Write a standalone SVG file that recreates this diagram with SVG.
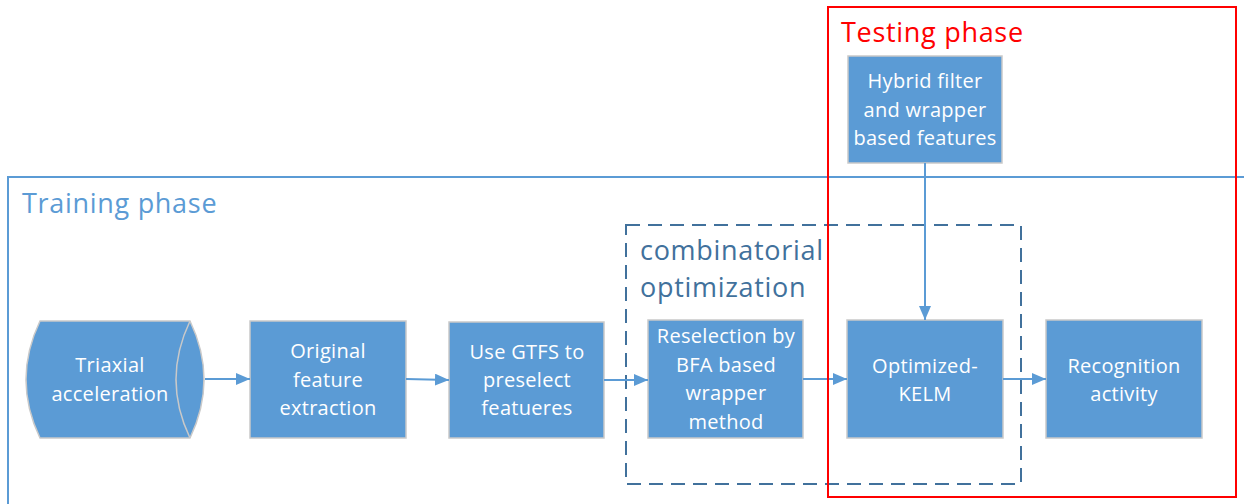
<svg xmlns="http://www.w3.org/2000/svg" width="1244" height="504" viewBox="0 0 1244 504">
  <style>
    .node { fill: #5B9BD5; stroke: #C9C9C9; stroke-width: 1.5; }
    .label { font-family: "Open Sans", "Liberation Sans", sans-serif; font-size: 20px; letter-spacing: 0.3px; fill: #FFFFFF; text-anchor: middle; }
    .title { font-family: "Open Sans", "Liberation Sans", sans-serif; font-size: 27px; letter-spacing: 0.7px; }
    .edge { fill: none; stroke: #5B9BD5; stroke-width: 2; }
  </style>
  <defs>
    <marker id="arrow" markerWidth="14" markerHeight="12" refX="14" refY="6" orient="auto" markerUnits="userSpaceOnUse">
      <path d="M0,0 L14,6 L0,12 Z" fill="#5B9BD5"/>
    </marker>
  </defs>

  <rect width="1244" height="504" fill="#FFFFFF"/>

  <!-- Training phase frame (open to the right and bottom) -->
  <g id="training-phase">
    <rect x="8" y="177" width="1260" height="360" fill="none" stroke="#5B9BD5" stroke-width="2"/>
    <text class="title" x="22" y="213" fill="#5B9BD5">Training phase</text>
  </g>

  <!-- Combinatorial optimization group -->
  <g id="combinatorial-optimization">
    <rect x="626" y="225" width="395" height="259" fill="none" stroke="#41719C" stroke-width="2" stroke-dasharray="14,8"/>
    <text class="title" x="640" y="260" fill="#41719C" letter-spacing="1.5">combinatorial</text>
    <text class="title" x="640" y="297" fill="#41719C" letter-spacing="1.5">optimization</text>
  </g>

  <!-- Nodes -->
  <g id="triaxial-acceleration">
    <path class="node" d="M40,321 L190,321 Q218,379.5 190,438 L40,438 Q12,379.5 40,321 Z"/>
    <path d="M190,321 Q162,379.5 190,438" fill="none" stroke="#C9C9C9" stroke-width="1.5"/>
    <text class="label" x="110" y="372">Triaxial</text>
    <text class="label" x="110" y="401">acceleration</text>
  </g>

  <g id="original-feature-extraction">
    <rect class="node" x="250" y="321" width="156" height="117"/>
    <text class="label" x="328" y="358">Original</text>
    <text class="label" x="328" y="387">feature</text>
    <text class="label" x="328" y="415">extraction</text>
  </g>

  <g id="gtfs-preselect">
    <rect class="node" x="449" y="322" width="155" height="116"/>
    <text class="label" x="527" y="359">Use GTFS to</text>
    <text class="label" x="527" y="387">preselect</text>
    <text class="label" x="527" y="415">featueres</text>
  </g>

  <g id="bfa-reselection">
    <rect class="node" x="648" y="320" width="155" height="118"/>
    <text class="label" x="726" y="343">Reselection by</text>
    <text class="label" x="726" y="372">BFA based</text>
    <text class="label" x="726" y="400">wrapper</text>
    <text class="label" x="726" y="429">method</text>
  </g>

  <g id="optimized-kelm">
    <rect class="node" x="847" y="320" width="156" height="118"/>
    <text class="label" x="925" y="373">Optimized-</text>
    <text class="label" x="925" y="401">KELM</text>
  </g>

  <g id="recognition-activity">
    <rect class="node" x="1046" y="320" width="156" height="118"/>
    <text class="label" x="1124" y="373">Recognition</text>
    <text class="label" x="1124" y="401">activity</text>
  </g>

  <g id="hybrid-features">
    <rect class="node" x="848" y="56" width="154" height="107"/>
    <text class="label" x="925" y="88">Hybrid filter</text>
    <text class="label" x="925" y="117">and wrapper</text>
    <text class="label" x="925" y="145">based features</text>
  </g>

  <!-- Connectors -->
  <g id="connectors">
    <path class="edge" d="M205,379 L250,379" marker-end="url(#arrow)"/>
    <path class="edge" d="M406,379 L449,380" marker-end="url(#arrow)"/>
    <path class="edge" d="M604,380 L648,380" marker-end="url(#arrow)"/>
    <path class="edge" d="M803,379 L847,379" marker-end="url(#arrow)"/>
    <path class="edge" d="M1003,379 L1046,379" marker-end="url(#arrow)"/>
    <path class="edge" d="M925,163 L925,320" marker-end="url(#arrow)"/>
  </g>

  <!-- Testing phase frame -->
  <g id="testing-phase">
    <rect x="828" y="7" width="408" height="490" fill="none" stroke="#FF0000" stroke-width="2"/>
    <text class="title" x="841" y="42" fill="#FF0000">Testing phase</text>
  </g>
</svg>
